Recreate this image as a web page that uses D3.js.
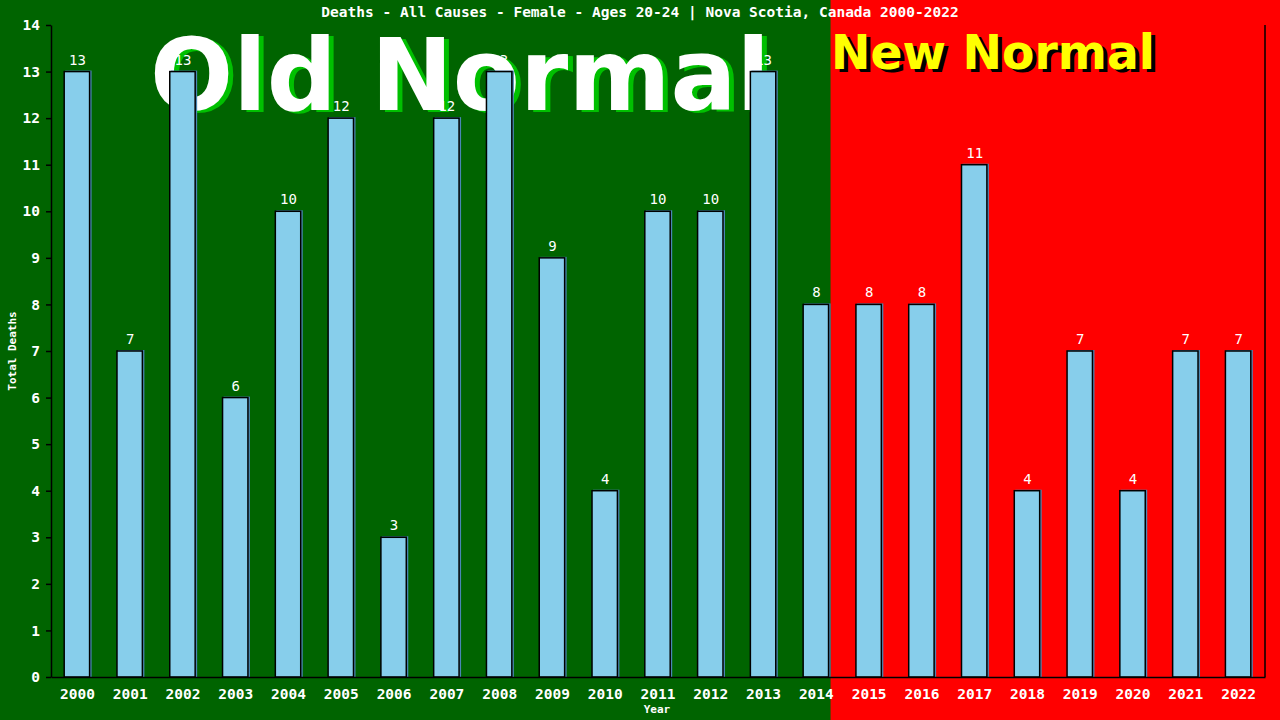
<!DOCTYPE html>
<html>
<head>
<meta charset="utf-8">
<title>Deaths - Nova Scotia Female 20-24</title>
<script src="https://d3js.org/d3.v7.min.js"></script>
<style>
  body { margin: 0; background: #006400; }
  svg { display: block; }
  text { font-family: "DejaVu Sans Mono", monospace; font-weight: bold; }
</style>
</head>
<body>
<div id="chart"></div>
<script>
// data
var years = ["2000","2001","2002","2003","2004","2005","2006","2007","2008","2009","2010","2011",
             "2012","2013","2014","2015","2016","2017","2018","2019","2020","2021","2022"];
var deaths = [13, 7, 13, 6, 10, 12, 3, 12, 13, 9, 4, 10, 10, 13, 8, 8, 8, 11, 4, 7, 4, 7, 7];
var yTicks = [0,1,2,3,4,5,6,7,8,9,10,11,12,13,14];
var lastOldYear = "2014";

var W = 1280, H = 720;
var margin = {top: 25, right: 15, bottom: 43, left: 51};
var width = W - margin.left - margin.right,
    height = H - margin.top - margin.bottom;

var svg = d3.select("#chart").append("svg")
    .attr("width", W)
    .attr("height", H);

var x = d3.scaleBand()
    .domain(years)
    .range([margin.left, margin.left + width])
    .paddingInner(0.5)
    .paddingOuter(0.25);

var y = d3.scaleLinear()
    .domain([0, 14])
    .range([margin.top + height, margin.top]);

// backgrounds: green for old normal, red for new normal
var split = x(lastOldYear) + x.bandwidth() + 1;
svg.append("rect").attr("x", 0).attr("y", 0).attr("width", split).attr("height", H).attr("fill", "#006400");
svg.append("rect").attr("x", split).attr("y", 0).attr("width", W - split).attr("height", H).attr("fill", "#ff0000");

// big labels (behind the bars)
function bigText(txt, x0, y0, size, len, fill, shadow, dx, dy) {
    svg.append("text")
        .attr("x", x0 + dx).attr("y", y0 + dy)
        .attr("textLength", len).attr("lengthAdjust", "spacingAndGlyphs")
        .style("font-family", "'DejaVu Sans', Verdana, sans-serif")
        .style("font-size", size + "px")
        .attr("fill", shadow)
        .text(txt);
    svg.append("text")
        .attr("x", x0).attr("y", y0)
        .attr("textLength", len).attr("lengthAdjust", "spacingAndGlyphs")
        .style("font-family", "'DejaVu Sans', Verdana, sans-serif")
        .style("font-size", size + "px")
        .attr("fill", fill)
        .text(txt);
}
bigText("Old Normal", 150, 110, 100, 620, "#ffffff", "#00c000", 5, 2);
bigText("New Normal", 831, 69, 48, 324, "#ffff00", "#000000", 4, 3);

// title
svg.append("text")
    .attr("x", 640).attr("y", 17)
    .attr("text-anchor", "middle")
    .attr("fill", "#fff")
    .style("font-size", "14.5px")
    .text("Deaths - All Causes - Female - Ages 20-24 | Nova Scotia, Canada 2000-2022");

// bars
var bars = svg.selectAll(".bar")
    .data(deaths)
    .enter().append("g")
    .attr("class", "bar");

bars.append("rect")
    .attr("x", function(d, i) { return x(years[i]) + 1; })
    .attr("y", function(d) { return y(d) - 1; })
    .attr("width", x.bandwidth())
    .attr("height", function(d) { return y(0) - y(d) + 1; })
    .attr("fill", "#4a86b4");

bars.append("rect")
    .attr("x", function(d, i) { return x(years[i]); })
    .attr("y", function(d) { return y(d); })
    .attr("width", x.bandwidth() - 1)
    .attr("height", function(d) { return y(0) - y(d); })
    .attr("fill", "#87ceeb")
    .attr("stroke", "#000")
    .attr("stroke-width", 1.5);

bars.append("text")
    .attr("x", function(d, i) { return x(years[i]) + x.bandwidth() / 2; })
    .attr("y", function(d) { return y(d) - 7; })
    .attr("text-anchor", "middle")
    .attr("fill", "#fff")
    .style("font-size", "14px")
    .style("font-weight", "normal")
    .text(function(d) { return d; });

// axes
var yAxis = svg.append("g")
    .attr("transform", "translate(" + margin.left + ",0)")
    .call(d3.axisLeft(y).tickValues(yTicks).tickSize(5).tickSizeOuter(0).tickPadding(6));

var xAxis = svg.append("g")
    .attr("transform", "translate(0," + y(0) + ")")
    .call(d3.axisBottom(x).tickSize(0).tickPadding(12));

svg.selectAll(".domain, .tick line").attr("stroke", "#000").attr("stroke-width", 1.5);
svg.selectAll(".tick text")
    .attr("fill", "#fff")
    .style("font-family", "'DejaVu Sans Mono', monospace")
    .style("font-weight", "bold")
    .style("font-size", "14.5px");

// right border
svg.append("line")
    .attr("x1", margin.left + width).attr("x2", margin.left + width)
    .attr("y1", y(14)).attr("y2", y(0))
    .attr("stroke", "#000").attr("stroke-width", 1.5);

// axis titles
svg.append("text")
    .attr("x", 657).attr("y", 713)
    .attr("text-anchor", "middle")
    .attr("fill", "#fff")
    .style("font-size", "11px")
    .text("Year");

svg.append("text")
    .attr("transform", "translate(16,351)rotate(-90)")
    .attr("text-anchor", "middle")
    .attr("fill", "#fff")
    .style("font-size", "11px")
    .text("Total Deaths");
</script>
</body>
</html>
